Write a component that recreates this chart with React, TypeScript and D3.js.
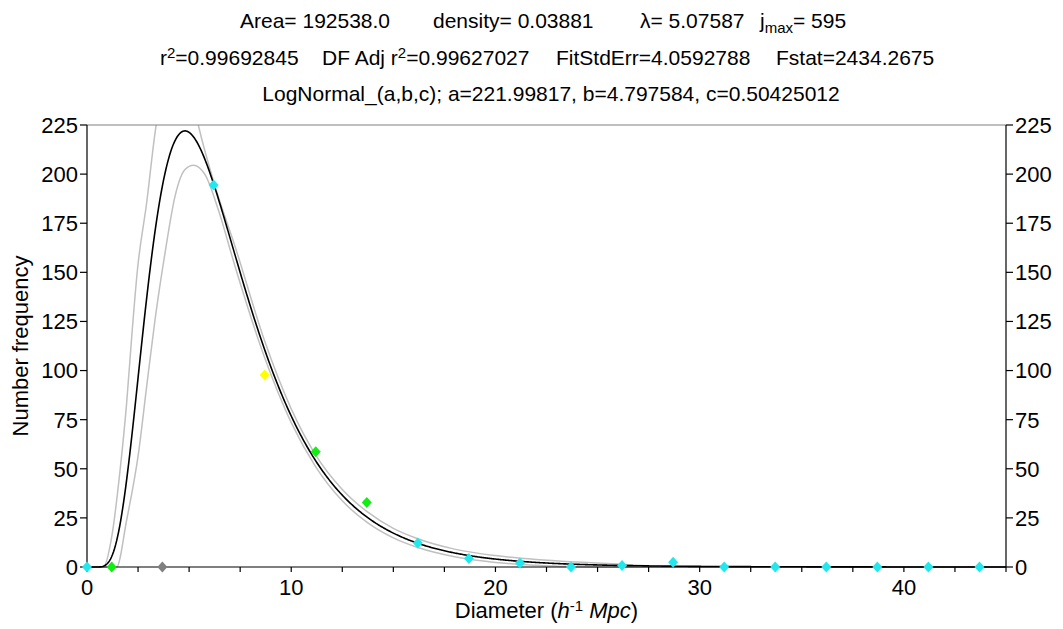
import React from 'react';
import * as d3 from 'd3';

// Fit parameters (from title)
const fitA = 221.99817;
const fitB = 4.797584;
const fitC = 0.50425012;

// Observed points
const pointX = [0, 1.21, 3.69, 6.2, 8.7, 11.2, 13.7, 16.2, 18.7, 21.2, 23.7, 26.2, 28.7, 31.2, 33.7, 36.2, 38.7, 41.2, 43.7];
const pointY = [0, 0, 0, 194.5, 97.8, 58.7, 32.8, 12.2, 4.3, 2.0, 0, 0.8, 2.4, 0, 0, 0, 0, 0, 0];
const pointColor = ['#22e8ee', '#11ee11', '#808080', '#22e8ee', '#ffff00', '#11ee11', '#11ee11', '#22e8ee', '#22e8ee', '#22e8ee', '#22e8ee', '#22e8ee', '#22e8ee', '#22e8ee', '#22e8ee', '#22e8ee', '#22e8ee', '#22e8ee', '#22e8ee'];

// Confidence bands
const upperBandX = [0, 0.8, 1.21, 1.62, 1.94, 2.19, 2.47, 2.92, 3.38, 3.8, 4.4, 4.9, 5.45, 6.27, 7.25, 8.7, 10, 11.2, 12.5, 13.7, 15, 16.2, 18, 20, 22, 24, 26, 27.5, 28.5, 45];
const upperBandY = [0, 0, 15.3, 49.3, 83.3, 117.3, 151.3, 185.3, 224.4, 245, 258, 252, 225, 193.8, 163.2, 115, 80.5, 57, 39.5, 28.3, 19.7, 14.4, 9.1, 5.8, 3.8, 2.5, 1.5, 0.5, 0, 0];
const lowerBandX = [0, 1.45, 1.94, 2.52, 2.92, 3.33, 3.82, 4.31, 4.8, 5.21, 5.78, 6.43, 7.25, 8.7, 10, 11.2, 12.5, 13.7, 15, 16.2, 18, 20, 22, 23.5, 24.5, 45];
const lowerBandY = [0, 0, 23.8, 57.8, 91.8, 125.8, 159.8, 188.7, 202.3, 204.5, 199.7, 181.9, 153, 106.5, 73.5, 51, 33.7, 22.8, 14.8, 9.9, 5.2, 2.3, 0.9, 0.2, 0, 0];

const yTicks = [0, 25, 50, 75, 100, 125, 150, 175, 200, 225];
const xMajorTicks = [0, 10, 20, 30, 40];
const xMinorTicks = [2.5, 5, 7.5, 12.5, 15, 17.5, 22.5, 25, 27.5, 32.5, 35, 37.5, 42.5, 45];

const FONT = '"Liberation Sans", Arial, sans-serif';
const TITLE_FS = 21;
const SUP_FS = 15;
const TICK_FS = 22;
const AXIS_FS = 22;

export default function App() {
  const W = 1063;
  const H = 629;
  const L = 87, R = 1006, T = 125, B = 567;
  const x = d3.scaleLinear().domain([0, 45]).range([L, R]);
  const y = d3.scaleLinear().domain([0, 225]).range([B, T]);

  const fitXs = d3.range(0, 45.001, 0.05);
  const fitFn = (v: number) => (v <= 0 ? 0 : fitA * Math.exp(-0.5 * Math.pow(Math.log(v / fitB) / fitC, 2)));
  const line = d3.line<[number, number]>().x(d => x(d[0])).y(d => y(d[1]));
  const smooth = d3.line<[number, number]>().x(d => x(d[0])).y(d => y(d[1])).curve(d3.curveMonotoneX);

  const fitPath = line(fitXs.map(v => [v, fitFn(v)] as [number, number])) || '';
  const upperPath = smooth(upperBandX.map((v, i) => [v, upperBandY[i]] as [number, number])) || '';
  const lowerPath = smooth(lowerBandX.map((v, i) => [v, lowerBandY[i]] as [number, number])) || '';

  const diamond = 'M0,-5.5L5,0L0,5.5L-5,0Z';

  return (
    <svg width={W} height={H} style={{ position: 'absolute', left: 0, top: 0, background: '#fff' }} fontFamily={FONT}>
      <defs>
        <clipPath id="plotclip">
          <rect x={L} y={T} width={R - L} height={B - T + 1} />
        </clipPath>
      </defs>
      {/* Title lines */}
      <text y={28} fontSize={TITLE_FS} fill="#000">
        <tspan x={240}>Area= 192538.0</tspan>
        <tspan x={433}>density= 0.03881</tspan>
        <tspan x={640}>λ= 5.07587</tspan>
        <tspan x={760}>j</tspan>
        <tspan fontSize={SUP_FS} dy={5}>max</tspan>
        <tspan dy={-5}>= 595</tspan>
      </text>
      <text y={65} fontSize={TITLE_FS} fill="#000">
        <tspan x={160}>r</tspan>
        <tspan fontSize={SUP_FS} dy={-7}>2</tspan>
        <tspan dy={7}>=0.99692845</tspan>
        <tspan x={322}>DF Adj r</tspan>
        <tspan fontSize={SUP_FS} dy={-7}>2</tspan>
        <tspan dy={7}>=0.99627027</tspan>
        <tspan x={556}>FitStdErr=4.0592788</tspan>
        <tspan x={776}>Fstat=2434.2675</tspan>
      </text>
      <text x={551} y={101} fontSize={TITLE_FS} textAnchor="middle" fill="#000">
        LogNormal_(a,b,c); a=221.99817, b=4.797584, c=0.50425012
      </text>

      {/* Curves */}
      <g clipPath="url(#plotclip)" fill="none">
        <path d={upperPath} stroke="#c0c0c0" strokeWidth={1.5} />
        <path d={lowerPath} stroke="#c0c0c0" strokeWidth={1.5} />
        <path d={fitPath} stroke="#000" strokeWidth={1.6} />
      </g>

      {/* Frame */}
      <line x1={L} x2={R} y1={T} y2={T} stroke="#808080" strokeWidth={1.2} />
      <line x1={L} x2={L} y1={T} y2={B} stroke="#000" strokeWidth={1.2} />
      <line x1={R} x2={R} y1={T} y2={B} stroke="#000" strokeWidth={1.2} />
      <line x1={L} x2={R} y1={B} y2={B} stroke="#000" strokeWidth={1.2} />

      {/* Y ticks left & right */}
      {yTicks.map(t => (
        <g key={'y' + t}>
          <line x1={L - 7} x2={L} y1={y(t)} y2={y(t)} stroke="#000" strokeWidth={1.2} />
          <text x={L - 9} y={y(t)} dy="0.36em" fontSize={TICK_FS} textAnchor="end">{t}</text>
          <line x1={R} x2={R + 7} y1={y(t)} y2={y(t)} stroke="#000" strokeWidth={1.2} />
          <text x={R + 9} y={y(t)} dy="0.36em" fontSize={TICK_FS} textAnchor="start">{t}</text>
        </g>
      ))}

      {/* X ticks */}
      {xMajorTicks.concat(xMinorTicks).map(t => (
        <line key={'xt' + t} x1={x(t)} x2={x(t)} y1={B} y2={B + 5} stroke="#000" strokeWidth={1.2} />
      ))}
      {xMajorTicks.map(t => (
        <text key={'xl' + t} x={x(t)} y={595} fontSize={TICK_FS} textAnchor="middle">{t}</text>
      ))}

      {/* Axis titles */}
      <text transform={`translate(20,${(T + B) / 2}) rotate(-90)`} fontSize={AXIS_FS} textAnchor="middle" dy="0.35em">
        Number frequency
      </text>
      <text x={(L + R) / 2} y={618} fontSize={AXIS_FS} textAnchor="middle">
        <tspan>Diameter (</tspan>
        <tspan fontStyle="italic">h</tspan>
        <tspan fontSize={SUP_FS} dy={-7}>-1</tspan>
        <tspan dy={7}> </tspan>
        <tspan fontStyle="italic">Mpc</tspan>
        <tspan>)</tspan>
      </text>

      {/* Points */}
      {pointX.map((v, i) => (
        <path key={'p' + i} d={diamond} transform={`translate(${x(v)},${y(pointY[i])})`} fill={pointColor[i]} />
      ))}
    </svg>
  );
}
